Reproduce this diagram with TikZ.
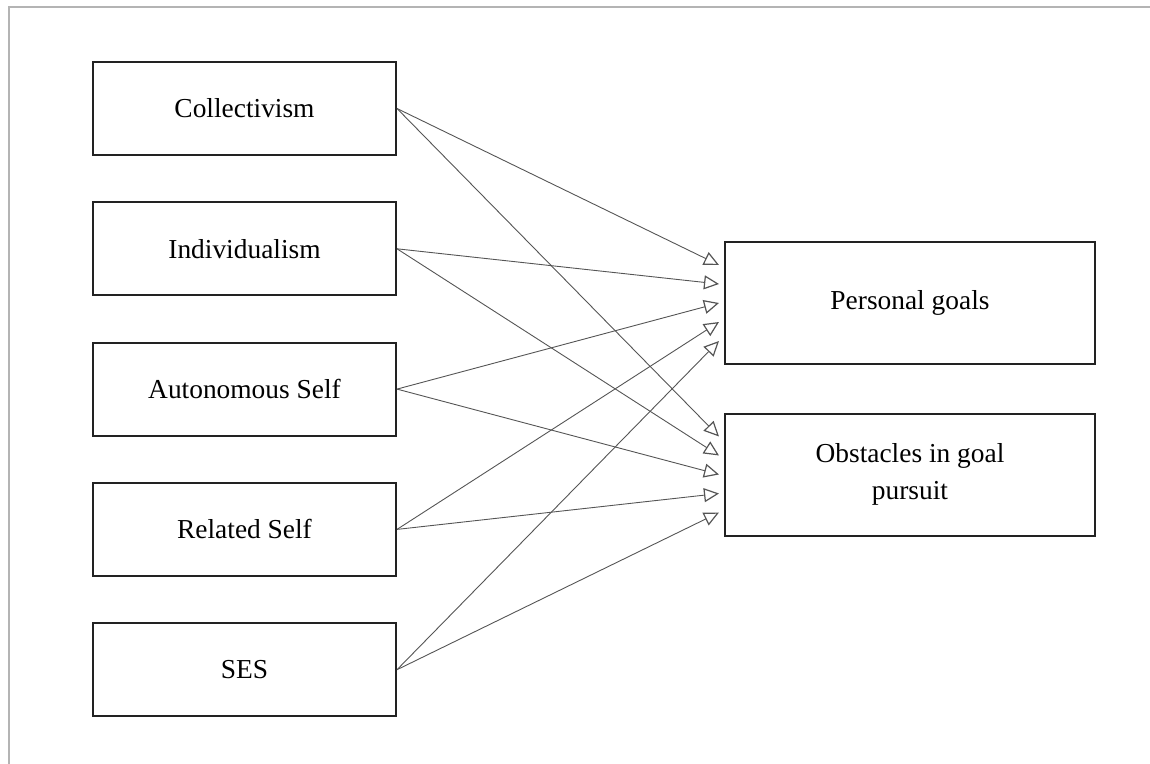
\documentclass[tikz,border=0pt]{standalone}
\usepackage{fontspec}
\setmainfont{Liberation Serif}
\usetikzlibrary{arrows.meta,calc}
\definecolor{framegray}{HTML}{B4B4B4}
\definecolor{boxline}{HTML}{222222}
\definecolor{linkline}{HTML}{555555}
\begin{document}
\begin{tikzpicture}[x=1bp,y=-1bp,
  factor/.style={draw=boxline, line width=2bp, minimum width=303bp, minimum height=93bp,
    inner sep=0pt, align=center, font=\fontsize{27.5}{37}\selectfont},
  outcome/.style={draw=boxline, line width=2bp, minimum width=370bp, minimum height=122bp,
    inner sep=0pt, align=center, font=\fontsize{27.5}{37}\selectfont},
  link/.style={draw=linkline, line width=0.9bp,
    -{Triangle[open, length=15bp, width=14bp, line width=1.2bp]}}]
\useasboundingbox (0,0) rectangle (1150,764);
% page frame
\draw[framegray, line width=2bp] (8.5,764) -- (8.5,7.5) -- (1150,7.5);

% predictors
\node[factor] (col) at (244.5,108.5) {Collectivism};
\node[factor] (ind) at (244.5,248.8) {Individualism};
\node[factor] (aut) at (244.5,389.1) {Autonomous Self};
\node[factor] (rel) at (244.5,529.4) {Related Self};
\node[factor] (ses) at (244.5,669.7) {SES};

% outcomes
\node[outcome] (pg) at (910,303) {Personal goals};
\node[outcome] (ob) at (910,474.5) {Obstacles in goal\\pursuit};

% arrow tip positions just left of each outcome box
\foreach \n/\o in {1/-38,2/-19,3/0,4/19,5/38}{
  \coordinate (pg\n) at ($(pg.west)+(-5,\o)$);
  \coordinate (ob\n) at ($(ob.west)+(-5,\o)$);
}

% paths
\foreach \s/\n in {col/1,ind/2,aut/3,rel/4,ses/5}{
  \draw[link] (\s.east) -- (pg\n);
  \draw[link] (\s.east) -- (ob\n);
}
\end{tikzpicture}
\end{document}
